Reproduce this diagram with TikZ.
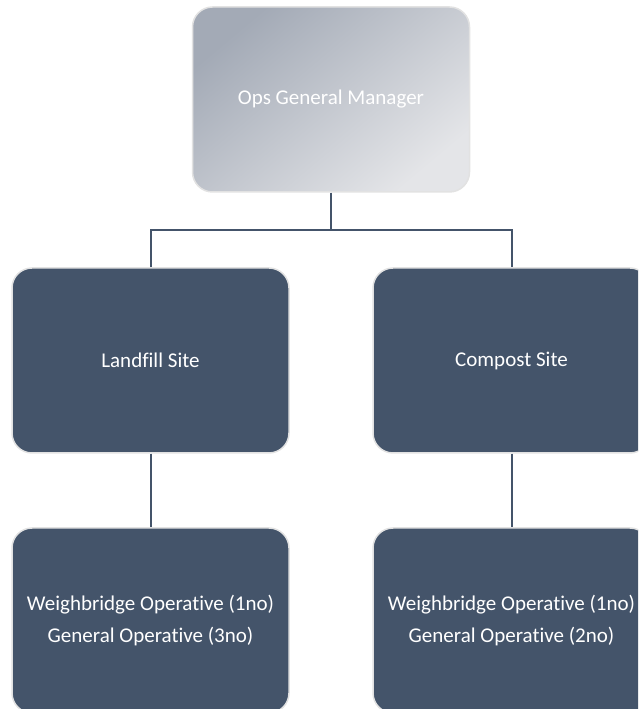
\documentclass[tikz,border=0pt]{standalone}
\usepackage{fontspec}
\setmainfont{Carlito}[Ligatures=NoCommon]
\usepackage{tikz}
\usetikzlibrary{positioning, calc, shadings}
\definecolor{boxblue}{HTML}{44546A}
\definecolor{boxedge}{HTML}{E2E2E2}
\definecolor{gmdark}{HTML}{A3AAB6}
\definecolor{gmlight}{HTML}{E4E5E8}

\begin{document}
\begin{tikzpicture}[x=1pt, y=1pt,
    orgbox/.style={rounded corners=20pt, draw=boxedge, line width=1.5pt,
      minimum width=277pt, minimum height=185pt, inner sep=0pt,
      text=white, align=center, font=\fontsize{21}{32}\selectfont},
    gmbox/.style={orgbox, top color=gmdark, bottom color=gmlight, shading angle=40},
    sitebox/.style={orgbox, fill=boxblue},
    link/.style={draw=boxblue, line width=2pt}]
    \useasboundingbox (0,0) rectangle (638,709);
    \clip (0,0) rectangle (638,709);
    % Manager
    \node[gmbox] (gm) at (331,609.5) {Ops General Manager};
    % Sites
    \node[sitebox] (landfill) at (150.5,348.5) {Landfill Site};
    \node[sitebox] (compost) at (511.5,348.5) {Compost Site};
    % Staff
    \node[sitebox] (landfillstaff) at (150.5,88.5)
      {Weighbridge Operative (1no)\\General Operative (3no)};
    \node[sitebox] (compoststaff) at (511.5,88.5)
      {Weighbridge Operative (1no)\\General Operative (2no)};
    % Connectors
    \coordinate (bus) at (331,479);
    \draw[link] (gm.south) -- (bus);
    \draw[link] (landfill.north) |- (bus) -| (compost.north);
    \draw[link] (landfill.south) -- (landfillstaff.north);
    \draw[link] (compost.south) -- (compoststaff.north);
  \end{tikzpicture}
\end{document}
